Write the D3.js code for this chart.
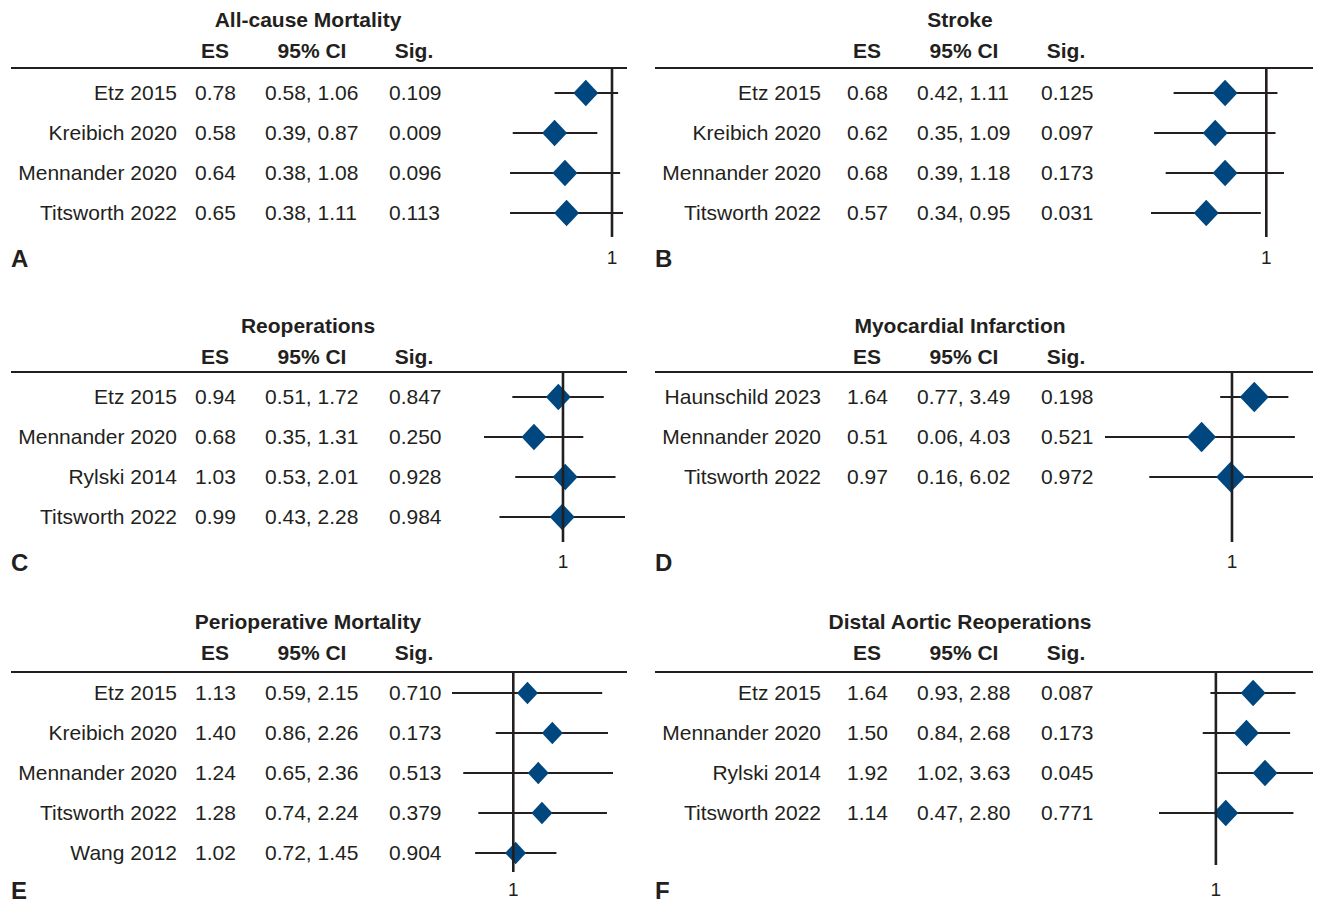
<!DOCTYPE html>
<html>
<head>
<meta charset="utf-8">
<script src="https://cdn.jsdelivr.net/npm/d3@7"></script>
<style>
  body { margin: 0; background: #fff; }
  text { font-family: 'Liberation Sans', Arial, Helvetica, sans-serif; fill: #231f20; }
</style>
</head>
<body>
<svg id="chart" width="1320" height="905"></svg>
<script>
// Panel data, one entry per panel (A..F)
let panelLetters = ['A', 'B', 'C', 'D', 'E', 'F']
let panelTitles = ['All-cause Mortality', 'Stroke', 'Reoperations',
  'Myocardial Infarction', 'Perioperative Mortality', 'Distal Aortic Reoperations']
let headerLabels = ['ES', '95% CI', 'Sig.']

let studyNames = [
  ['Etz 2015', 'Kreibich 2020', 'Mennander 2020', 'Titsworth 2022'],
  ['Etz 2015', 'Kreibich 2020', 'Mennander 2020', 'Titsworth 2022'],
  ['Etz 2015', 'Mennander 2020', 'Rylski 2014', 'Titsworth 2022'],
  ['Haunschild 2023', 'Mennander 2020', 'Titsworth 2022'],
  ['Etz 2015', 'Kreibich 2020', 'Mennander 2020', 'Titsworth 2022', 'Wang 2012'],
  ['Etz 2015', 'Mennander 2020', 'Rylski 2014', 'Titsworth 2022'],
]
let effectSizes = [
  [0.78, 0.58, 0.64, 0.65],
  [0.68, 0.62, 0.68, 0.57],
  [0.94, 0.68, 1.03, 0.99],
  [1.64, 0.51, 0.97],
  [1.13, 1.40, 1.24, 1.28, 1.02],
  [1.64, 1.50, 1.92, 1.14],
]
let ciLower = [
  [0.58, 0.39, 0.38, 0.38],
  [0.42, 0.35, 0.39, 0.34],
  [0.51, 0.35, 0.53, 0.43],
  [0.77, 0.06, 0.16],
  [0.59, 0.86, 0.65, 0.74, 0.72],
  [0.93, 0.84, 1.02, 0.47],
]
let ciUpper = [
  [1.06, 0.87, 1.08, 1.11],
  [1.11, 1.09, 1.18, 0.95],
  [1.72, 1.31, 2.01, 2.28],
  [3.49, 4.03, 6.02],
  [2.15, 2.26, 2.36, 2.24, 1.45],
  [2.88, 2.68, 3.63, 2.80],
]
let sigValues = [
  [0.109, 0.009, 0.096, 0.113],
  [0.125, 0.097, 0.173, 0.031],
  [0.847, 0.250, 0.928, 0.984],
  [0.198, 0.521, 0.972],
  [0.710, 0.173, 0.513, 0.379, 0.904],
  [0.087, 0.173, 0.045, 0.771],
]

// Layout
let colOffset = [0, 652]          // left / right column shift
let nameRight = [177, 821]
let ruleX = [[11, 627], [655, 1313]]
let titleY = [20, 326, 622]
let headerY = [51, 357, 653]
let ruleY = [68, 372, 672]
let firstRowY = [93, 397, 693]
let rowStep = 40
let footY = [259, 563, 891]
let plotRange = [[510, 623], [1151, 1284], [484, 625], [1105, 1313], [452, 613], [1159, 1313]]
let refBottom = [237, 237, 542, 542, 872, 865]
let diamondHalf = [12.5, 12.5, 12.5, 14.5, 10.5, 12.5]

let inkColor = '#231f20'
let diamondColor = '#00467f'
let fontSize = '21px'
let fmt2 = d3.format('.2f')
let fmt3 = d3.format('.3f')

let svg = d3.select('#chart')

panelLetters.forEach(function(letter, i) {
  let col = i % 2
  let row = Math.floor(i / 2)
  let dx = colOffset[col]
  let g = svg.append('g').attr('class', 'panel-' + letter)

  // Title and column headers
  g.append('text')
    .attr('x', 308 + dx).attr('y', titleY[row]).attr('dy', '0.35em')
    .attr('text-anchor', 'middle')
    .style('font-weight', 'bold').style('font-size', fontSize)
    .text(panelTitles[i])

  let headerX = [215 + dx, 312 + dx, 414 + dx]
  g.selectAll('text.header')
    .data(headerLabels)
    .enter().append('text')
    .attr('class', 'header')
    .attr('x', (d, k) => headerX[k]).attr('y', headerY[row]).attr('dy', '0.35em')
    .attr('text-anchor', 'middle')
    .style('font-weight', 'bold').style('font-size', fontSize)
    .text(d => d)

  g.append('line')
    .attr('x1', ruleX[col][0]).attr('x2', ruleX[col][1])
    .attr('y1', ruleY[row]).attr('y2', ruleY[row])
    .style('stroke', inkColor).style('stroke-width', 2)

  // Scales
  let x = d3.scaleLog()
    .domain([d3.min(ciLower[i]), d3.max(ciUpper[i])])
    .range(plotRange[i])
  let y = d3.scalePoint()
    .domain(studyNames[i])
    .range([firstRowY[row], firstRowY[row] + rowStep * (studyNames[i].length - 1)])

  let rows = studyNames[i].map(function(name, k) {
    return {name: name, es: effectSizes[i][k], lo: ciLower[i][k], hi: ciUpper[i][k], sig: sigValues[i][k]}
  })

  // Table text
  let rowG = g.selectAll('g.row')
    .data(rows)
    .enter().append('g')
    .attr('class', 'row')
    .attr('transform', d => `translate(0, ${y(d.name)})`)

  rowG.append('text')
    .attr('x', nameRight[col]).attr('dy', '0.35em')
    .attr('text-anchor', 'end').style('font-size', fontSize)
    .text(d => d.name)
  rowG.append('text')
    .attr('x', 195 + dx).attr('dy', '0.35em').style('font-size', fontSize)
    .text(d => fmt2(d.es))
  rowG.append('text')
    .attr('x', 265 + dx).attr('dy', '0.35em').style('font-size', fontSize)
    .text(d => fmt2(d.lo) + ', ' + fmt2(d.hi))
  rowG.append('text')
    .attr('x', 389 + dx).attr('dy', '0.35em').style('font-size', fontSize)
    .text(d => fmt3(d.sig))

  // Reference line at 1
  g.append('line')
    .attr('x1', x(1)).attr('x2', x(1))
    .attr('y1', ruleY[row]).attr('y2', refBottom[i])
    .style('stroke', inkColor).style('stroke-width', 2.6)

  // Confidence intervals
  rowG.append('line')
    .attr('x1', d => x(d.lo)).attr('x2', d => x(d.hi))
    .style('stroke', inkColor).style('stroke-width', 1.8)

  // Diamonds
  let hw = diamondHalf[i]
  let hh = hw * 1.06
  rowG.append('path')
    .attr('d', d => {
      let cx = x(d.es)
      return `M${cx - hw},0L${cx},${-hh}L${cx + hw},0L${cx},${hh}Z`
    })
    .style('fill', diamondColor)

  // Footer: panel letter and axis label
  g.append('text')
    .attr('x', ruleX[col][0]).attr('y', footY[row]).attr('dy', '0.35em')
    .style('font-weight', 'bold').style('font-size', '24px')
    .text(letter)
  g.append('text')
    .attr('x', x(1)).attr('y', footY[row] - 2).attr('dy', '0.35em')
    .attr('text-anchor', 'middle').style('font-size', '19px')
    .text('1')
})
</script>
</body>
</html>
